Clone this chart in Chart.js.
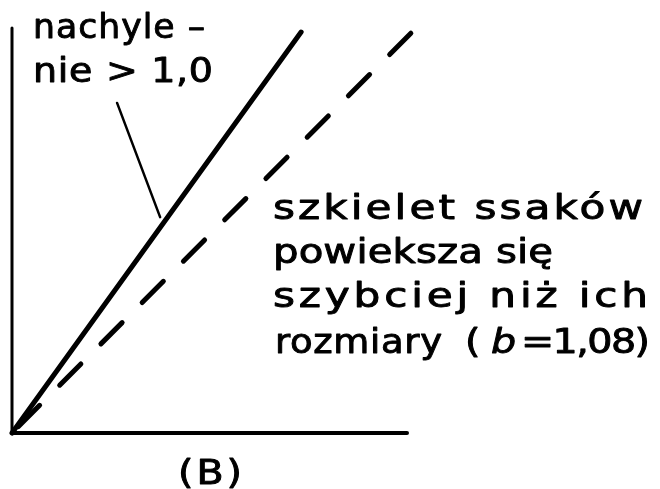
<!DOCTYPE html>
<html>
<head>
<meta charset="utf-8">
<script src="https://cdn.jsdelivr.net/npm/chart.js@4/dist/chart.umd.min.js"></script>
<style>
  html, body { margin: 0; padding: 0; background: #fff; }
  canvas { display: block; }
</style>
</head>
<body>
<canvas id="wykres" width="660" height="489"></canvas>
<script>
// osie ukladu (w jednostkach skali 0..100)
const osY_x = [0, 0];
const osY_y = [100, 0];
const osX_x = [0, 100];
const osX_y = [0, 0];

// linia ciagla: nachylenie > 1,0
const ciaglaX = [0, 73.2];
const ciaglaY = [0, 99.0];

// linia przerywana: b = 1,08
const przerywanaX = [0, 102.3];
const przerywanaY = [0, 100.0];

// odnosnik od opisu do linii ciaglej
const odnosnikX = [26.6, 37.5];
const odnosnikY = [81.5, 53.3];

// opisy
const opisNachylenia = ['nachyle –', 'nie > 1,0'];
const opisSzkieletu = ['szkielet ssaków', 'powieksza się', 'szybciej niż ich', 'rozmiary'];
const opisWykladnika = ['(', 'b', '=1,08)'];
const etykietaPanelu = '(B)';

function punkty(xs, ys) {
    return xs.map((x, i) => ({ x: x, y: ys[i] }));
}

function linia(xs, ys, grubosc, extra) {
    return Object.assign({
        data: punkty(xs, ys),
        borderColor: '#000',
        borderWidth: grubosc,
        borderCapStyle: 'round',
        borderJoinStyle: 'round',
        pointRadius: 0,
        showLine: true,
        fill: false,
        clip: false
    }, extra || {});
}

// tekst rozciagniety do zadanej szerokosci
function napis(ctx, txt, left, base, width, sx, italic) {
    ctx.font = (italic ? 'italic ' : '') + '33px "DejaVu Sans"';
    ctx.letterSpacing = '0px';
    const w0 = ctx.measureText(txt).width;
    const n = [...txt].length;
    const ls = n > 1 ? (width / sx - w0) / (n - 1) : 0;
    ctx.letterSpacing = ls + 'px';
    ctx.save();
    ctx.translate(left, base);
    ctx.scale(sx, 1);
    ctx.fillText(txt, 0, 0);
    ctx.strokeText(txt, 0, 0);
    ctx.restore();
}

const opisy = {
    id: 'opisy',
    afterDraw(chart) {
        const ctx = chart.ctx;
        ctx.save();
        ctx.fillStyle = '#000';
        ctx.strokeStyle = '#000';
        ctx.lineWidth = 0.9;
        ctx.lineJoin = 'round';
        ctx.textBaseline = 'alphabetic';

        napis(ctx, opisNachylenia[0], 33, 38, 172, 1.05);
        napis(ctx, opisNachylenia[1], 33, 82, 180, 1.15);

        napis(ctx, opisSzkieletu[0], 273, 219, 370, 1.28);
        napis(ctx, opisSzkieletu[1], 273, 263, 280, 1.22);
        napis(ctx, opisSzkieletu[2], 273, 307, 375, 1.28);
        napis(ctx, opisSzkieletu[3], 275, 353, 167, 1.12);

        napis(ctx, opisWykladnika[0], 465, 353, 10, 1.2);
        napis(ctx, opisWykladnika[1], 491, 353, 22, 1.2, true);
        napis(ctx, opisWykladnika[2], 521, 353, 129, 1.2);

        napis(ctx, etykietaPanelu, 178, 484, 64, 1.2);
        ctx.restore();
    }
};

new Chart(document.getElementById('wykres'), {
    type: 'scatter',
    data: {
        datasets: [
            linia(osY_x, osY_y, 3),
            linia(osX_x, osX_y, 4),
            linia(ciaglaX, ciaglaY, 5),
            linia(przerywanaX, przerywanaY, 5, { borderDash: [30, 28.4], borderDashOffset: 49.3 }),
            linia(odnosnikX, odnosnikY, 2.5)
        ]
    },
    options: {
        responsive: false,
        animation: false,
        events: [],
        layout: { padding: { left: 12, top: 28, right: 253, bottom: 56 } },
        scales: {
            x: { type: 'linear', min: 0, max: 100, display: false },
            y: { type: 'linear', min: 0, max: 100, display: false }
        },
        plugins: {
            legend: { display: false },
            tooltip: { enabled: false }
        }
    },
    plugins: [opisy]
});
</script>
</body>
</html>
